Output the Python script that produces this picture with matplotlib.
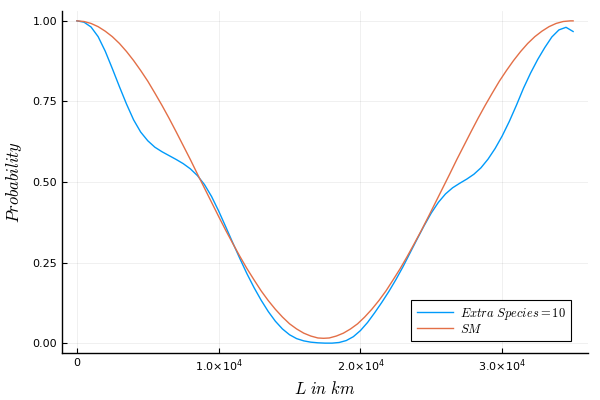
import numpy as np
import matplotlib
matplotlib.use("Agg")
import matplotlib.pyplot as plt
from matplotlib.font_manager import FontProperties

# ---- data ----
L_extra = np.arange(0, 35001, 500)
P_extra = [1.000, 0.996, 0.981, 0.951, 0.906, 0.852, 0.796, 0.742, 0.693, 0.655,
           0.628, 0.608, 0.594, 0.582, 0.570, 0.557, 0.541, 0.520, 0.492, 0.455,
           0.410, 0.361, 0.311, 0.262, 0.215, 0.172, 0.133, 0.098, 0.068, 0.044,
           0.026, 0.014, 0.007, 0.003, 0.001, 0.000, 0.000, 0.002, 0.008, 0.020,
           0.039, 0.064, 0.094, 0.126, 0.160, 0.197, 0.237, 0.280, 0.323, 0.365,
           0.404, 0.437, 0.463, 0.482, 0.496, 0.509, 0.524, 0.544, 0.571, 0.604,
           0.643, 0.688, 0.738, 0.791, 0.838, 0.880, 0.917, 0.950, 0.972, 0.980,
           0.967]

sm_half = [1.000, 0.998, 0.992, 0.982, 0.968, 0.951, 0.930, 0.905, 0.877, 0.846,
           0.813, 0.776, 0.738, 0.698, 0.656, 0.613, 0.570, 0.525, 0.481, 0.437,
           0.393, 0.350, 0.309, 0.269, 0.231, 0.196, 0.162, 0.132, 0.105, 0.081,
           0.060, 0.044, 0.031, 0.022, 0.016]
L_sm = list(range(0, 17001, 500)) + [17400] + [34800 - 500 * n for n in range(34, -1, -1)] + [35000]
P_sm = sm_half + [0.015] + sm_half[::-1] + [1.000]

labels = [r"$Extra\ Species = 10$", r"$SM$"]
xticks = [0, 10000, 20000, 30000]
xticklabels = ["0", r"$1.0{\times}10^{4}$", r"$2.0{\times}10^{4}$", r"$3.0{\times}10^{4}$"]
yticks = [0.0, 0.25, 0.5, 0.75, 1.0]
yticklabels = ["0.00", "0.25", "0.50", "0.75", "1.00"]

c_blue = "#009AFA"
c_orange = "#E36F47"

plt.rcParams["mathtext.fontset"] = "dejavusans"

fig = plt.figure(figsize=(6, 4), dpi=100)
ax = fig.add_axes([0.1033, 0.118, 0.8767, 0.854])

ax.plot(L_extra, P_extra, color=c_blue, lw=1.0, label=labels[0])
ax.plot(L_sm, P_sm, color=c_orange, lw=1.0, label=labels[1])

ax.set_xlim(-1050, 36050)
ax.set_ylim(-0.03, 1.03)

ax.set_xticks(xticks)
ax.set_xticklabels(xticklabels)
ax.set_yticks(yticks)
ax.set_yticklabels(yticklabels)
ax.tick_params(direction="in", length=3.5, width=0.8, labelsize=8, colors="black")

for s in ["top", "right"]:
    ax.spines[s].set_visible(False)
for s in ["left", "bottom"]:
    ax.spines[s].set_linewidth(1.0)
    ax.spines[s].set_color("black")

ax.grid(True, color="#000000", alpha=0.07, lw=0.6)
ax.set_axisbelow(True)

ax.set_xlabel(r"$L\ in\ km$", fontsize=12, math_fontfamily="cm", labelpad=4)
ax.set_ylabel(r"$Probability$", fontsize=12, math_fontfamily="cm", labelpad=6)

leg = ax.legend(loc="lower right", bbox_to_anchor=(0.98, 0.015),
                prop=FontProperties(size=9, math_fontfamily="cm"),
                frameon=True, fancybox=False, framealpha=1.0,
                edgecolor="black", handlelength=2.9, handletextpad=0.5,
                borderpad=0.45, labelspacing=0.1)
leg.get_frame().set_linewidth(0.8)

fig.savefig("out.png", dpi=100)
